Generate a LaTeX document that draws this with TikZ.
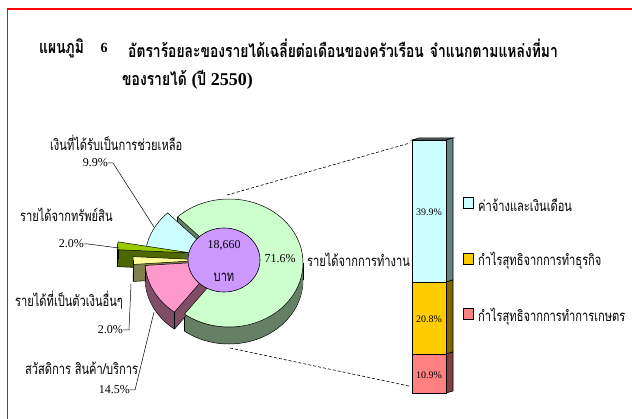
\documentclass[tikz,border=0pt]{standalone}
\usepackage{fontspec}
\setmainfont{Liberation Serif}
\newfontfamily\thai[Script=Thai,FakeStretch=0.74]{Loma}
\newfontfamily\thaittl[Script=Thai,FakeStretch=0.77]{Loma}
\definecolor{gtop}{HTML}{CCFFCC}
\definecolor{gside}{HTML}{668066}
\definecolor{ctop}{HTML}{CCFFFF}
\definecolor{cside}{HTML}{668080}
\definecolor{ltop}{HTML}{99CC00}
\definecolor{lside}{HTML}{4D6600}
\definecolor{ytop}{HTML}{FFFF99}
\definecolor{yside}{HTML}{80804D}
\definecolor{ptop}{HTML}{FF99CC}
\definecolor{pside}{HTML}{804D66}
\definecolor{purp}{HTML}{CC99FF}
\definecolor{gold}{HTML}{FFCC00}
\definecolor{goldside}{HTML}{806600}
\definecolor{salmon}{HTML}{FF8080}
\definecolor{salmonside}{HTML}{804040}
\definecolor{framered}{HTML}{FF0000}
\newcommand\pieslice[6]{%
  \fill[#6,draw=black,line width=0.5pt] (#1,#2-17) -- ++(#3:74 and 64) arc[start angle=#3,end angle=#4,x radius=74,y radius=64] -- cycle;
  \foreach \dd in {16,...,1}{%
    \fill[#6] (#1,#2-\dd) -- ++(#3:74 and 64) arc[start angle=#3,end angle=#4,x radius=74,y radius=64] -- cycle;}
  \draw[line width=0.5pt] (#1,#2) ++(#3:74 and 64) -- ++(0,-17);
  \draw[line width=0.5pt] (#1,#2) ++(#4:74 and 64) -- ++(0,-17);
  \fill[#5,draw=black,line width=0.5pt] (#1,#2) -- ++(#3:74 and 64) arc[start angle=#3,end angle=#4,x radius=74,y radius=64] -- cycle;
}
\tikzset{
  thlab/.style={inner sep=0pt, font=\fontsize{15}{15}\thai},
  ttl/.style={inner sep=0pt, font=\fontsize{18}{18}\thaittl\bfseries},
  ttlnum/.style={inner sep=0pt, font=\fontsize{14}{14}\selectfont\bfseries},
  num/.style={inner sep=0pt, font=\fontsize{12}{12}\selectfont},
  barnum/.style={inner sep=0pt, font=\fontsize{10}{10}\selectfont},
  leader/.style={line width=0.5pt},
  legbox/.style={draw, line width=0.6pt, minimum width=10pt, minimum height=11pt, inner sep=0pt},
  zoomline/.style={line width=0.6pt, dash pattern=on 3pt off 2pt},
  barface/.style={draw=black, line width=0.6pt},
}
\begin{document}
\begin{tikzpicture}[x=1pt,y=1pt]
\useasboundingbox (0,0) rectangle (632,-419);
\fill[white] (0,0) rectangle (632,-419);
% frame
\draw[framered, line width=1.6pt] (7.5,-419) -- (7.5,-9) -- (632,-9);
% title
\node[ttl, anchor=west] (t1a) at (39,-48) {แผนภูมิ};
\node[ttlnum] (t1b) at (104,-48) {6};
\node[ttl, anchor=west] (t1c) at (128,-48) {อัตราร้อยละของรายได้เฉลี่ยต่อเดือนของครัวเรือน\hspace{6pt}จำแนกตามแหล่งที่มา};
\node[ttl, anchor=west] (t2) at (122,-80) {ของรายได้ {\rmfamily(}ปี {\rmfamily 2550)}};
% pie slices (back to front)
\pieslice{229}{-263}{-127}{134}{gtop}{gside}
\draw[line width=0.5pt] (303,-263) -- ++(0,-17);
\pieslice{219}{-259}{134}{170}{ctop}{cside}
\pieslice{191}{-253}{170}{177}{ltop}{lside}
\pieslice{207}{-260}{177}{184}{ytop}{yside}
\draw[line width=0.5pt] (133,-260) -- ++(0,-17);
\pieslice{219}{-261}{184}{233}{ptop}{pside}
\begin{scope}
\clip (150,-275) rectangle (240,-345);
\fill[gtop,draw=black,line width=0.5pt] (229,-263) -- ++(-127:74 and 64) arc[start angle=-127,end angle=134,x radius=74,y radius=64] -- cycle;
\end{scope}
% centre
\draw[fill=purp, line width=0.6pt] (224,-260) ellipse[x radius=36,y radius=32];
\node[num] (ctr1) at (224,-245) {18,660};
\node[thlab] (ctr2) at (224,-277) {บาท};
\node[num] (p716) at (280,-259) {71.6\%};
\node[thlab, anchor=west] (lwork) at (307,-260) {รายได้จากการทำงาน};
% left labels
\node[thlab, anchor=west] (lhelp) at (50,-143) {เงินที่ได้รับเป็นการช่วยเหลือ};
\node[num, anchor=east] (phelp) at (108,-163) {9.9\%};
\node[thlab, anchor=west] (lprop) at (20,-215) {รายได้จากทรัพย์สิน};
\node[num, anchor=east] (pprop) at (84,-244) {2.0\%};
\node[thlab, anchor=west] (loth) at (15,-300) {รายได้ที่เป็นตัวเงินอื่นๆ};
\node[num, anchor=east] (poth) at (123,-330) {2.0\%};
\node[thlab, anchor=west] (lwelf) at (25,-368) {สวัสดิการ สินค้า/บริการ};
\node[num, anchor=east] (pwelf) at (130,-390) {14.5\%};
\coordinate (thelp) at (154,-227);
\coordinate (tprop) at (119,-248);
\coordinate (toth) at (131,-284);
\coordinate (twelf) at (154,-312);
\draw[leader] (phelp.east) -- ++(5,0) -- (thelp);
\draw[leader] (pprop.east) -- ++(4,0) -- (tprop);
\draw[leader] (poth.east) -- ++(6,0) -- (toth);
\draw[leader] (pwelf.east) -- ++(5,0) -- (twelf);
% bar
\coordinate (btl) at (412,-140);
\coordinate (bbl) at (412,-393);
\fill[cside, draw=black, line width=0.6pt] (412,-140) -- (419,-138) -- (453,-138) -- (446,-140) -- cycle;
\fill[cside, draw=black, line width=0.6pt] (446,-140) -- (453,-138) -- (453,-280) -- (446,-282) -- cycle;
\fill[goldside, draw=black, line width=0.6pt] (446,-282) -- (453,-280) -- (453,-352) -- (446,-354) -- cycle;
\fill[salmonside, draw=black, line width=0.6pt] (446,-354) -- (453,-352) -- (453,-391) -- (446,-393) -- cycle;
\filldraw[barface, fill=ctop] (412,-140) rectangle (446,-282);
\filldraw[barface, fill=gold] (412,-282) rectangle (446,-354);
\filldraw[barface, fill=salmon] (412,-354) rectangle (446,-393);
\node[barnum] (b1) at (429,-212) {39.9\%};
\node[barnum] (b2) at (429,-319) {20.8\%};
\node[barnum] (b3) at (429,-375) {10.9\%};
% zoom lines
\coordinate (ptop) at (227,-195);
\coordinate (pbot) at (230,-348);
\coordinate (bt) at (410,-143);
\coordinate (bb) at (409,-386);
\draw[zoomline] (ptop) -- (bt);
\draw[zoomline] (pbot) -- (bb);
% legend
\node[legbox, fill=ctop] (k1) at (468,-203) {};
\node[legbox, fill=gold] (k2) at (468,-259) {};
\node[legbox, fill=salmon] (k3) at (468,-314) {};
\node[thlab, anchor=west] (k1t) at (478,-205) {ค่าจ้างและเงินเดือน};
\node[thlab, anchor=west] (k2t) at (478,-261) {กำไรสุทธิจากการทำธุรกิจ};
\node[thlab, anchor=west] (k3t) at (478,-317) {กำไรสุทธิจากการทำการเกษตร};
\end{tikzpicture}
\end{document}
